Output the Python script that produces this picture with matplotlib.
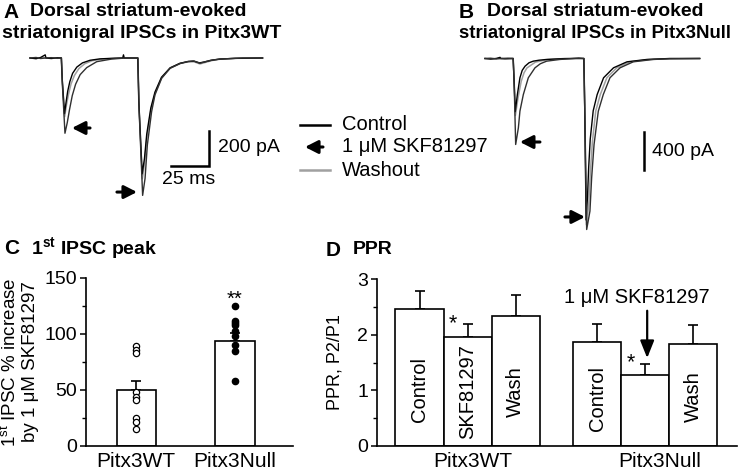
import matplotlib
matplotlib.use("Agg")
import matplotlib.pyplot as plt
import numpy as np

plt.rcParams['font.family'] = ['Liberation Sans', 'DejaVu Sans']
plt.rcParams['mathtext.fontset'] = 'custom'
plt.rcParams['mathtext.rm'] = 'Liberation Sans'
plt.rcParams['mathtext.bf'] = 'Liberation Sans:bold'
plt.rcParams['mathtext.it'] = 'Liberation Sans:italic'

# ---------------- data ----------------
# Panel A traces (time ms, current pA)
A_ctrl = [(0,0),(4,-4),(7,3),(10,18),(10.5,0),(14,-3),(18,1),(20.6,0),(21.2,-120),(22.7,-318),(23.7,-255),
          (24.8,-190),(26.2,-135),(28,-88),(30.8,-52),(34.5,-28),(39.5,-13),(46,-5),(56,-1),(61,0),(61.5,18),(62,0),
          (70.9,0),(71.6,-250),(73.8,-662),(75.3,-575),(76.8,-435),(79.5,-285),(82.2,-195),(86.5,-110),(92.2,-56),
          (98.7,-30),(104,-20),(108,-18),(111.5,-28),(115,-22),(119,-13),(125,-6),(135,-2),(153,0)]
A_skf = [(0,0),(4,3),(7,-3),(10,0),(14,2),(18,-2),(20.7,0),(21.3,-150),(23.0,-430),(24.5,-370),(26,-295),
         (27.8,-215),(30,-150),(33,-95),(37.3,-55),(43.9,-21),(53.7,-6),(63,0),(71.0,0),(71.8,-300),(74.1,-785),
         (75.7,-688),(77.2,-497),(80,-307),(82.2,-211),(86.6,-116),(92.1,-59),(98.7,-32),(104,-20),(107.5,-17),
         (111.8,-30),(116,-20),(120,-12),(125,-6),(140,0),(153,0)]
A_wash = [(0,0),(4,-2),(8,2),(12,-1),(16,1),(20.6,0),(21.2,-130),(22.8,-335),(24,-268),(25.4,-205),(27,-148),
          (29.2,-100),(32.2,-60),(36,-33),(41,-15),(48,-6),(58,-1),(70.9,0),(71.6,-260),(73.9,-690),(75.4,-600),
          (76.9,-455),(79.6,-295),(82.3,-203),(86.6,-114),(92.3,-58),(98.8,-31),(104,-22),(108,-22),(111.8,-34),
          (115.5,-25),(120,-14),(125,-7),(135,-2),(153,0)]
# Panel B traces
B_ctrl = [(0,0),(4,-6),(8,0),(10.6,12),(11,0),(14,-3),(19.8,0),(20.4,-200),(21.3,-560),(22.8,-379),(24.6,-203),
          (26.2,-125),(28.2,-81),(31,-45),(34,-28),(38,-18),(43.4,-10),(50,-5),(55,-2),(62,0),(66,4),(69.6,0),
          (70.2,-500),(71.2,-1700),(72.2,-1450),(73.0,-1150),(74.1,-850),(76.2,-550),(79.0,-379),(83.5,-203),
          (90.5,-98),(100,-35),(114,-10),(130,0),(151,0)]
B_skf = [(0,0),(4,3),(8,-4),(12,0),(16,3),(19.9,0),(20.6,-300),(21.6,-905),(23.5,-730),(24.6,-554),(27,-379),
         (30.5,-203),(35.2,-98),(39,-55),(43.4,-28),(52.8,-10),(62.2,0),(69.7,0),(70.3,-600),(71.6,-1800),
         (73.9,-1607),(75.1,-1256),(76.8,-905),(79.8,-554),(83.3,-379),(88,-203),(95.1,-98),(104.4,-35),
         (118.5,-10),(130,-3),(151.4,0)]
B_wash = [(0,0),(5,-3),(10,2),(15,-2),(19.8,0),(20.5,-220),(21.4,-600),(23.2,-420),(25.5,-240),(27.5,-150),
          (29.5,-100),(35.5,-38),(44,-12),(56,0),(69.6,0),(70.3,-550),(71.4,-1750),(73,-1550),(74.2,-1200),
          (75.6,-880),(78.0,-552),(81.2,-379),(85.8,-203),(92.8,-98),(102.2,-35),(116,-10),(130,-2),(151,0)]

legend_labels = ["Control", "1 \u03bcM SKF81297", "Washout"]

# Panel C
c_groups = ["Pitx3WT", "Pitx3Null"]
c_means = [50, 94]
c_sems = [8, 7]
c_wt_points = [89, 86, 83, 48, 44, 41, 25, 21, 15]
c_null_points = [125, 112, 110, 108, 103, 98, 90, 85, 58]

# Panel D
d_groups = ["Pitx3WT", "Pitx3Null"]
d_conditions = ["Control", "SKF81297", "Wash"]
d_wt_means = [2.47, 1.95, 2.34]
d_wt_sems = [0.32, 0.25, 0.37]
d_null_means = [1.87, 1.28, 1.83]
d_null_sems = [0.33, 0.19, 0.35]

# ---------------- figure ----------------
W, H = 750, 470
fig = plt.figure(figsize=(7.5, 4.7), dpi=100)

def px_axes(x0, y0, x1, y1):
    return fig.add_axes([x0 / W, 1 - y1 / H, (x1 - x0) / W, (y1 - y0) / H])

def ftext(x, y, s, **kw):
    fig.text(x / W, 1 - y / H, s, **kw)

FS = 14.5      # legend / scale-bar text
TFS = 14.0     # bold titles
XFS = 15       # x tick labels
YFS = 13.5     # y tick labels
BFS = 14.5     # in-bar labels

# ---- Panel A ----
axA = px_axes(0, 40, 375, 240)
axA.set_xlim(-30 / 1.52, 345 / 1.52)
axA.set_ylim(-(240 - 58) / 0.175, (58 - 40) / 0.175)
axA.axis('off')
for tr, col, lw in [(A_wash, '#a0a0a0', 1.1), (A_ctrl, 'k', 1.0), (A_skf, '#303030', 1.0)]:
    t, i = zip(*tr)
    axA.plot(t, i, color=col, lw=lw, solid_joinstyle='round')
arr = dict(arrowstyle='-|>,head_length=0.55,head_width=0.28', color='k', lw=2.2,
           mutation_scale=14, shrinkA=0, shrinkB=0)
axA.annotate('', xy=(27.6, -400), xytext=(39.5, -400), arrowprops=arr)
axA.annotate('', xy=(70.4, -766), xytext=(57.2, -766), arrowprops=arr)
# scale bars
axA.plot([92.8, 117.8, 117.8], [-617, -617, -417], color='k', lw=1.8, solid_joinstyle='miter')
axA.text(123.5, -514, "200 pA", fontsize=FS - 0.5, va='center', ha='left')
axA.text(104.6, -697, "25 ms", fontsize=FS - 0.5, va='center', ha='center')

# ---- Panel B ----
axB = px_axes(375, 40, 750, 240)
axB.set_xlim((375 - 485) / 1.42, (750 - 485) / 1.42)
axB.set_ylim(-(240 - 58.5) / 0.095, (58.5 - 40) / 0.095)
axB.axis('off')
for tr, col, lw in [(B_wash, '#a0a0a0', 1.1), (B_ctrl, 'k', 1.0), (B_skf, '#303030', 1.0)]:
    t, i = zip(*tr)
    axB.plot(t, i, color=col, lw=lw, solid_joinstyle='round')
axB.annotate('', xy=(24.6, -879), xytext=(38.7, -879), arrowprops=arr)
axB.annotate('', xy=(70.4, -1668), xytext=(56.3, -1668), arrowprops=arr)
axB.plot([112, 112], [-1174, -774], color='k', lw=1.8)
axB.text(117.6, -984, "400 pA", fontsize=FS - 0.5, va='center', ha='left')

# legend (manual)
ftext(342, 125, legend_labels[0], fontsize=FS, va='center')
ftext(342, 147, legend_labels[1], fontsize=FS, va='center')
ftext(342, 170, legend_labels[2], fontsize=FS, va='center')
fig.add_artist(plt.Line2D([300 / W, 330 / W], [1 - 125 / H, 1 - 125 / H], color='k', lw=1.8))
fig.add_artist(plt.Line2D([300 / W, 330 / W], [1 - 170 / H, 1 - 170 / H], color='#a0a0a0', lw=1.8))
fig.add_artist(matplotlib.patches.FancyArrowPatch((323 / W, 1 - 147 / H), (305 / W, 1 - 147 / H),
               transform=fig.transFigure, **arr))

# titles
ftext(3, 12, "A", fontsize=TFS + 1, fontweight='bold', va='center')
ftext(30, 12, "Dorsal striatum-evoked", fontsize=TFS, fontweight='bold', va='center')
ftext(2, 33, "striatonigral IPSCs in Pitx3WT", fontsize=TFS, fontweight='bold', va='center')
ftext(459, 12, "B", fontsize=TFS + 1, fontweight='bold', va='center')
ftext(487, 12, "Dorsal striatum-evoked", fontsize=TFS, fontweight='bold', va='center')
ftext(459, 33, "striatonigral IPSCs in Pitx3Null", fontsize=TFS - 0.6, fontweight='bold', va='center')

# ---- Panel C ----
axC = px_axes(86, 278, 293, 446)
xc = np.arange(len(c_groups))
axC.bar(xc, c_means, width=0.40, color='white', edgecolor='k', lw=1.2, zorder=2)
axC.errorbar(xc, c_means, yerr=[[0, 0], c_sems], fmt='none', ecolor='k', elinewidth=1.2,
             capsize=3.5, capthick=1.2, zorder=1)
axC.plot([xc[0]] * len(c_wt_points), c_wt_points, 'o', mfc='white', mec='k', ms=4.5, mew=0.9, zorder=3)
axC.plot([xc[1]] * len(c_null_points), c_null_points, 'o', mfc='k', mec='k', ms=4.5, zorder=3)
axC.text(xc[1], 131, "**", fontsize=FS, ha='center', va='center')
axC.set_xlim(-0.51, 1.59)
axC.set_ylim(0, 150)
axC.set_yticks([0, 50, 100, 150])
axC.set_yticks([25, 75, 125], minor=True)
axC.set_xticks(xc)
axC.set_xticklabels(c_groups, fontsize=XFS)
axC.tick_params(axis='x', length=0, pad=4)
axC.tick_params(axis='y', which='major', length=4.3, width=1.1, labelsize=YFS + 0.5, pad=2)
axC.tick_params(axis='y', which='minor', length=3, width=1.0)
for s in ['top', 'right']:
    axC.spines[s].set_visible(False)
for s in ['left', 'bottom']:
    axC.spines[s].set_linewidth(1.2)
axC.set_ylabel("1$^{\\mathrm{st}}$ IPSC % increase\nby 1 \u03bcM SKF81297", fontsize=13.5, labelpad=4,
               linespacing=1.15)
ftext(4, 248, "C", fontsize=TFS + 1, fontweight='bold', va='center')
ftext(31, 248, "1$^{\\mathbf{st}}$ IPSC peak", fontsize=TFS, fontweight='bold', va='center')

# ---- Panel D ----
axD = px_axes(377, 279, 737, 446)
x_wt = np.arange(3)
x_null = np.arange(3) + 3.7
axD.bar(x_wt, d_wt_means, width=1.0, color='white', edgecolor='k', lw=1.2, zorder=2)
axD.bar(x_null, d_null_means, width=1.0, color='white', edgecolor='k', lw=1.2, zorder=2)
axD.errorbar(x_wt, d_wt_means, yerr=[[0] * 3, d_wt_sems], fmt='none', ecolor='k', elinewidth=1.2,
             capsize=3.5, capthick=1.2, zorder=1)
axD.errorbar(x_null, d_null_means, yerr=[[0] * 3, d_null_sems], fmt='none', ecolor='k', elinewidth=1.2,
             capsize=3.5, capthick=1.2, zorder=1)
label_y_wt = [1.02, 0.98, 0.98]
label_y_null = [0.85, None, 0.89]
for k in range(3):
    axD.text(x_wt[k], label_y_wt[k], d_conditions[k], rotation=90, ha='center', va='center', fontsize=BFS, zorder=4)
    if label_y_null[k] is not None:
        axD.text(x_null[k], label_y_null[k], d_conditions[k], rotation=90, ha='center', va='center',
                 fontsize=BFS, zorder=4)
axD.text(0.70, 2.20, "*", fontsize=FS + 1, ha='center', va='center')
axD.text(4.40, 1.50, "*", fontsize=FS + 1, ha='center', va='center')
axD.text(x_null[1] - 0.17, 2.66, "1 \u03bcM SKF81297", ha='center', va='center', fontsize=FS)
axD.annotate('', xy=(x_null[1] + 0.04, 1.58), xytext=(x_null[1] + 0.04, 2.43),
             arrowprops=dict(arrowstyle='-|>,head_length=0.75,head_width=0.3', color='k', lw=1.6,
                             mutation_scale=14, shrinkA=0, shrinkB=0))
axD.set_xlim(-0.885, 6.61)
axD.set_ylim(0, 3)
axD.set_yticks([0, 1, 2, 3])
axD.set_yticks([0.5, 1.5, 2.5], minor=True)
axD.set_xticks([1.1, 5.0])
axD.set_xticklabels(d_groups, fontsize=XFS)
axD.tick_params(axis='x', length=0, pad=4)
axD.tick_params(axis='y', which='major', length=4.3, width=1.1, labelsize=YFS + 0.5, pad=2)
axD.tick_params(axis='y', which='minor', length=3, width=1.0)
for s in ['top', 'right']:
    axD.spines[s].set_visible(False)
for s in ['left', 'bottom']:
    axD.spines[s].set_linewidth(1.2)
axD.set_ylabel("PPR, P2/P1", fontsize=13, labelpad=10)
ftext(326, 250, "D", fontsize=TFS + 1, fontweight='bold', va='center')
ftext(353, 250, "PPR", fontsize=TFS, fontweight='bold', va='center')

fig.savefig("out.png", dpi=100)
